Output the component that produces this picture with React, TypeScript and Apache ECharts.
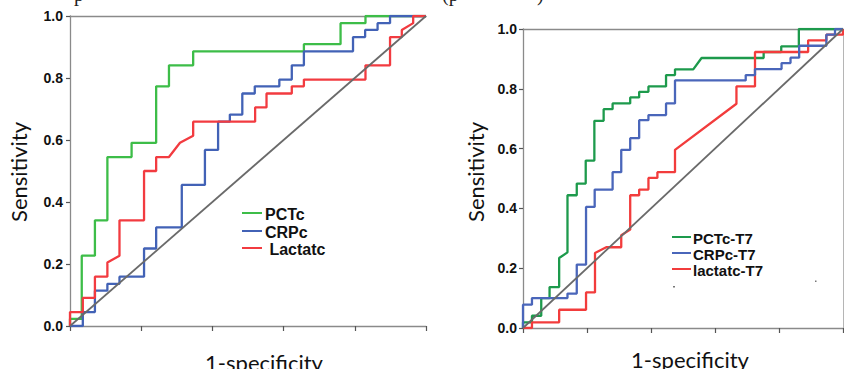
import React, { useEffect, useRef } from "react";
import * as echarts from "echarts";

// ---- Left panel (ROC at admission) ----
const pctcFpr = [0, 0, 0.033, 0.033, 0.07, 0.07, 0.105, 0.105, 0.173, 0.173, 0.242, 0.242, 0.278, 0.278, 0.346, 0.346, 0.657, 0.657, 0.76, 0.76, 0.83, 0.83, 1];
const pctcTpr = [0, 0.023, 0.023, 0.227, 0.227, 0.341, 0.341, 0.545, 0.545, 0.591, 0.591, 0.773, 0.773, 0.841, 0.841, 0.886, 0.886, 0.909, 0.909, 0.977, 0.977, 1, 1];

const crpcFpr = [0, 0.036, 0.036, 0.07, 0.07, 0.105, 0.105, 0.139, 0.139, 0.208, 0.208, 0.242, 0.242, 0.314, 0.314, 0.379, 0.379, 0.416, 0.416, 0.449, 0.449, 0.484, 0.484, 0.519, 0.519, 0.588, 0.588, 0.623, 0.623, 0.657, 0.657, 0.795, 0.795, 0.829, 0.829, 0.864, 0.864, 0.899, 0.899, 1];
const crpcTpr = [0, 0, 0.045, 0.045, 0.114, 0.114, 0.136, 0.136, 0.159, 0.159, 0.25, 0.25, 0.318, 0.318, 0.455, 0.455, 0.568, 0.568, 0.659, 0.659, 0.682, 0.682, 0.75, 0.75, 0.773, 0.773, 0.795, 0.795, 0.841, 0.841, 0.886, 0.886, 0.932, 0.932, 0.955, 0.955, 0.977, 0.977, 1, 1];

const lactFpr = [0, 0, 0.036, 0.036, 0.07, 0.07, 0.105, 0.105, 0.139, 0.139, 0.208, 0.208, 0.242, 0.242, 0.278, 0.309, 0.346, 0.346, 0.52, 0.52, 0.552, 0.552, 0.623, 0.623, 0.657, 0.657, 0.83, 0.83, 0.899, 0.899, 0.932, 0.932, 0.964, 0.964, 1];
const lactTpr = [0, 0.045, 0.045, 0.091, 0.091, 0.159, 0.159, 0.205, 0.227, 0.341, 0.341, 0.5, 0.5, 0.545, 0.545, 0.591, 0.614, 0.659, 0.659, 0.705, 0.705, 0.75, 0.75, 0.773, 0.773, 0.795, 0.795, 0.841, 0.841, 0.932, 0.932, 0.955, 0.977, 1, 1];

// ---- Right panel (ROC at T7) ----
const pctc7Fpr = [0, 0, 0.028, 0.028, 0.057, 0.057, 0.083, 0.083, 0.113, 0.113, 0.139, 0.139, 0.168, 0.168, 0.196, 0.196, 0.223, 0.223, 0.252, 0.252, 0.28, 0.28, 0.335, 0.335, 0.363, 0.363, 0.392, 0.392, 0.447, 0.447, 0.475, 0.475, 0.532, 0.558, 0.752, 0.752, 0.807, 0.807, 0.862, 0.862, 1];
const pctc7Tpr = [0, 0.019, 0.019, 0.041, 0.041, 0.1, 0.1, 0.137, 0.137, 0.234, 0.253, 0.444, 0.444, 0.483, 0.483, 0.56, 0.56, 0.693, 0.693, 0.732, 0.732, 0.751, 0.751, 0.771, 0.771, 0.79, 0.79, 0.808, 0.808, 0.846, 0.846, 0.865, 0.865, 0.903, 0.903, 0.923, 0.923, 0.942, 0.942, 1, 1];

const crpc7Fpr = [0, 0, 0.028, 0.028, 0.139, 0.139, 0.168, 0.168, 0.197, 0.197, 0.224, 0.224, 0.28, 0.28, 0.307, 0.307, 0.335, 0.335, 0.363, 0.363, 0.392, 0.392, 0.447, 0.447, 0.475, 0.475, 0.696, 0.696, 0.725, 0.725, 0.808, 0.808, 0.836, 0.836, 0.863, 0.863, 0.948, 0.948, 0.975, 0.975, 1];
const crpc7Tpr = [0, 0.078, 0.078, 0.1, 0.1, 0.115, 0.115, 0.212, 0.212, 0.405, 0.405, 0.463, 0.463, 0.521, 0.521, 0.596, 0.596, 0.635, 0.635, 0.695, 0.695, 0.712, 0.712, 0.751, 0.751, 0.828, 0.828, 0.846, 0.846, 0.866, 0.866, 0.886, 0.886, 0.904, 0.904, 0.944, 0.944, 0.981, 0.981, 1, 1];

const lact7Fpr = [0, 0.028, 0.028, 0.113, 0.113, 0.197, 0.197, 0.225, 0.225, 0.26, 0.307, 0.307, 0.335, 0.335, 0.363, 0.363, 0.392, 0.392, 0.42, 0.42, 0.475, 0.475, 0.667, 0.667, 0.725, 0.725, 0.891, 0.891, 0.948, 0.948, 1, 1];
const lact7Tpr = [0, 0, 0.019, 0.019, 0.061, 0.061, 0.119, 0.119, 0.251, 0.27, 0.27, 0.31, 0.329, 0.444, 0.444, 0.463, 0.463, 0.502, 0.502, 0.521, 0.521, 0.596, 0.75, 0.808, 0.808, 0.923, 0.923, 0.962, 0.962, 0.981, 0.981, 1];

const refLine = [0, 1];

const yTicks = [0, 0.2, 0.4, 0.6, 0.8, 1.0];

const leftNames = ["PCTc", "CRPc", " Lactatc"];
const rightNames = ["PCTc-T7", "CRPc-T7", "lactatc-T7"];

const pairs = (xs: number[], ys: number[]) => xs.map((x, i) => [x, ys[i]]);

const AXIS_GRAY = "#8a8a8a";

export default function App() {
  const ref = useRef<HTMLDivElement>(null);

  useEffect(() => {
    document.body.style.margin = "0";
    document.body.style.overflow = "hidden";
    if (!ref.current) return;
    const chart = echarts.init(ref.current, undefined, { renderer: "svg" });

    const xBottom = (gi: number) => ({
      gridIndex: gi,
      type: "value",
      min: 0,
      max: 1,
      interval: 0.2,
      axisLine: { show: true, onZero: false, lineStyle: { color: AXIS_GRAY, width: 1.3 } },
      axisTick: { show: true, length: 5, lineStyle: { color: "#555", width: 1.2 } },
      axisLabel: { show: false },
      splitLine: { show: false },
    });
    const xTop = (gi: number) => ({
      gridIndex: gi,
      type: "value",
      position: "top",
      min: 0,
      max: 1,
      axisLine: { show: true, onZero: false, lineStyle: { color: AXIS_GRAY, width: 1.3 } },
      axisTick: { show: false },
      axisLabel: { show: false },
      splitLine: { show: false },
    });
    const yLeft = (gi: number, margin: number) => ({
      gridIndex: gi,
      type: "value",
      min: 0,
      max: 1,
      interval: 0.2,
      axisLine: { show: true, onZero: false, lineStyle: { color: AXIS_GRAY, width: 1.3 } },
      axisTick: { show: true, length: 4, lineStyle: { color: "#555", width: 1.2 } },
      axisLabel: {
        show: true,
        margin,
        color: "#111",
        fontFamily: "'Liberation Sans', Arial, sans-serif",
        fontWeight: "bold",
        fontSize: 14,
        formatter: (v: number) => (yTicks.some((t) => Math.abs(t - v) < 1e-9) ? v.toFixed(1) : ""),
      },
      splitLine: { show: false },
    });

    const line = (name: string, data: number[][], color: string, xi: number, yi: number, width = 2.3) => ({
      name,
      type: "line",
      xAxisIndex: xi,
      yAxisIndex: yi,
      data,
      symbol: "none",
      showSymbol: false,
      lineStyle: { color, width },
      itemStyle: { color },
      silent: true,
    });

    const legendRow = (x: number, y: number, color: string, text: string, font: string, lineLen: number, tx: number) => [
      { type: "line", shape: { x1: x, y1: y, x2: x + lineLen, y2: y }, style: { stroke: color, lineWidth: 2 } },
      {
        type: "text",
        x: tx,
        y: y + 1,
        style: { text, font, fill: "#111", align: "left", verticalAlign: "middle", textAlign: "left", textVerticalAlign: "middle" },
      },
    ];

    const leftColors = ["#3dbd48", "#4262b6", "#f23b40"];
    const rightColors = ["#1d9a4c", "#4a66ba", "#f23c3c"];

    const leftLegendFont = "bold 16px 'Liberation Sans', Arial, sans-serif";
    const rightLegendFont = "bold 15px 'Liberation Sans', Arial, sans-serif";
    const titleFont = "22px Lato, 'Open Sans', sans-serif";
    const captionFont = "20px 'Liberation Serif', serif";

    chart.setOption({
      animation: false,
      grid: [
        { left: 70, top: 16, width: 356, height: 310 },
        { left: 523, top: 29, width: 320, height: 299 },
      ],
      xAxis: [xBottom(0), xTop(0), xBottom(1), xTop(1)],
      yAxis: [
        yLeft(0, 7),
        yLeft(1, 6),
        {
          gridIndex: 1,
          type: "value",
          position: "right",
          min: 0,
          max: 1,
          axisLine: { show: true, onZero: false, lineStyle: { color: "#b5b5b5", width: 1 } },
          axisTick: { show: false },
          axisLabel: { show: false },
          splitLine: { show: false },
        },
      ],
      series: [
        line(leftNames[0], pairs(pctcFpr, pctcTpr), leftColors[0], 0, 0),
        line(leftNames[1], pairs(crpcFpr, crpcTpr), leftColors[1], 0, 0),
        line(leftNames[2], pairs(lactFpr, lactTpr), leftColors[2], 0, 0),
        line("ref-left", pairs(refLine, refLine), "#6a6a6a", 0, 0, 1.8),
        line(rightNames[0], pairs(pctc7Fpr, pctc7Tpr), rightColors[0], 2, 1),
        line(rightNames[2], pairs(lact7Fpr, lact7Tpr), rightColors[2], 2, 1),
        line(rightNames[1], pairs(crpc7Fpr, crpc7Tpr), rightColors[1], 2, 1),
        line("ref-right", pairs(refLine, refLine), "#6a6a6a", 2, 1, 1.8),
      ],
      graphic: [
        // caption fragments cropped at the very top of the image
        { type: "text", x: 74, y: 4, style: { text: "p", font: captionFont, fill: "#222", verticalAlign: "bottom", textVerticalAlign: "bottom" } },
        { type: "text", x: 442, y: 4, style: { text: "(p", font: captionFont, fill: "#222", verticalAlign: "bottom", textVerticalAlign: "bottom" } },
        { type: "text", x: 537, y: 4, style: { text: ")", font: captionFont, fill: "#222", verticalAlign: "bottom", textVerticalAlign: "bottom" } },
        // axis titles
        { type: "text", x: 18, y: 172, rotation: Math.PI / 2, style: { text: "Sensitivity", font: titleFont, fill: "#111", align: "center", verticalAlign: "middle", textAlign: "center", textVerticalAlign: "middle" } },
        { type: "text", x: 475, y: 172, rotation: Math.PI / 2, style: { text: "Sensitivity", font: titleFont, fill: "#111", align: "center", verticalAlign: "middle", textAlign: "center", textVerticalAlign: "middle" } },
        { type: "text", x: 264, y: 362, style: { text: "1-specificity", font: titleFont, fill: "#111", align: "center", verticalAlign: "middle", textAlign: "center", textVerticalAlign: "middle" } },
        { type: "text", x: 690, y: 359, style: { text: "1-specificity", font: titleFont, fill: "#111", align: "center", verticalAlign: "middle", textAlign: "center", textVerticalAlign: "middle" } },
        // left legend
        ...legendRow(242, 213, leftColors[0], leftNames[0], leftLegendFont, 20, 265),
        ...legendRow(242, 231, leftColors[1], leftNames[1], leftLegendFont, 20, 265),
        ...legendRow(242, 248, leftColors[2], leftNames[2], leftLegendFont, 20, 265),
        // right legend
        ...legendRow(672, 237, rightColors[0], rightNames[0], rightLegendFont, 19, 693),
        ...legendRow(672, 253, rightColors[1], rightNames[1], rightLegendFont, 19, 693),
        ...legendRow(672, 269, rightColors[2], rightNames[2], rightLegendFont, 19, 693),
        { type: "rect", shape: { x: 673, y: 286, width: 2, height: 1.5 }, style: { fill: "#777" } },
        { type: "rect", shape: { x: 815, y: 280.5, width: 1.5, height: 1.5 }, style: { fill: "#777" } },
      ],
    });

    return () => chart.dispose();
  }, []);

  return <div ref={ref} style={{ position: "absolute", left: 0, top: 0, width: 844, height: 369 }} />;
}
